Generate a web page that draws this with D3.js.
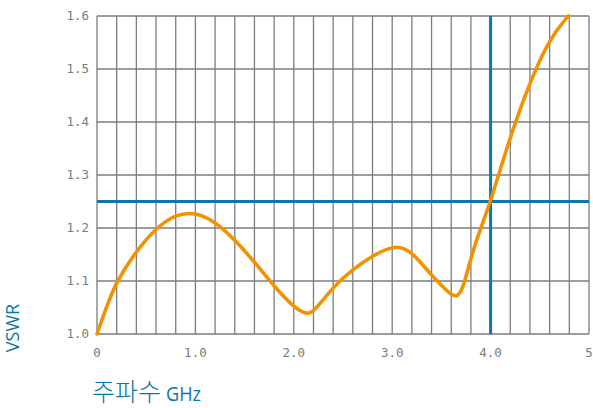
<!DOCTYPE html>
<html>
<head>
<meta charset="utf-8">
<script src="https://cdn.jsdelivr.net/npm/d3@7/dist/d3.min.js"></script>
<style>
  html, body { margin: 0; padding: 0; background: #fff; }
  svg { display: block; }
</style>
</head>
<body>
<svg id="chart" width="593" height="408"></svg>
<script>
// Frequency (GHz) and measured VSWR
const freqGHz = [0, 0.1, 0.2, 0.4, 0.6, 0.8, 1.0, 1.2, 1.4, 1.6, 1.8, 2.0, 2.13, 2.2, 2.4, 2.6, 2.8, 3.03, 3.2, 3.4, 3.6, 3.66, 3.72, 3.8, 3.9, 4.0, 4.2, 4.4, 4.6, 4.79];
const vswr    = [1.0, 1.053, 1.1, 1.157, 1.2, 1.226, 1.23, 1.212, 1.178, 1.136, 1.09, 1.05, 1.037, 1.041, 1.089, 1.122, 1.148, 1.169, 1.156, 1.11, 1.073, 1.07, 1.085, 1.145, 1.2, 1.25, 1.373, 1.476, 1.558, 1.6];

// Reference limits
const vswrLimit = [1.25];
const freqMarker = [4.0];

// Axis ticks
const xTicks = [0, 1, 2, 3, 4, 5];
const xTickLabels = ["0", "1.0", "2.0", "3.0", "4.0", "5"];
const xGrid = d3.range(0, 26).map(i => i * 0.2);
const yTicks = [1.0, 1.1, 1.2, 1.3, 1.4, 1.5, 1.6];

const svg = d3.select("#chart");
const margin = { left: 97, right: 4, top: 16, bottom: 74 };
const W = 593, H = 408;

const x = d3.scaleLinear().domain([0, 5]).range([margin.left, W - margin.right]);
const y = d3.scaleLinear().domain([1.0, 1.6]).range([H - margin.bottom, margin.top]);

const gridColor = "#7d7d7d";
const tickColor = "#7a7a7a";
const blue = "#0e76a8";
const orange = "#f39200";
const mono = "'DejaVu Sans Mono', 'Liberation Mono', monospace";

// Vertical grid lines every 0.2 GHz
svg.append("g")
  .selectAll("line").data(xGrid).join("line")
  .attr("x1", d => x(d)).attr("x2", d => x(d))
  .attr("y1", y(1.6)).attr("y2", y(1.0))
  .attr("stroke", gridColor).attr("stroke-width", 1.3);

// Horizontal grid lines every 0.1
svg.append("g")
  .selectAll("line").data(yTicks).join("line")
  .attr("x1", x(0)).attr("x2", x(5))
  .attr("y1", d => y(d)).attr("y2", d => y(d))
  .attr("stroke", gridColor).attr("stroke-width", 1.3);

// Y axis tick labels
svg.append("g")
  .selectAll("text").data(yTicks).join("text")
  .attr("x", x(0) - 8).attr("y", d => y(d))
  .attr("dy", "0.35em").attr("text-anchor", "end")
  .attr("font-family", mono).attr("font-size", 12.5)
  .attr("fill", tickColor)
  .text(d => d.toFixed(1));

// X axis tick labels
svg.append("g")
  .selectAll("text").data(xTicks).join("text")
  .attr("x", d => x(d)).attr("y", y(1.0) + 19)
  .attr("dy", "0.35em").attr("text-anchor", "middle")
  .attr("font-family", mono).attr("font-size", 12.5)
  .attr("fill", tickColor)
  .text((d, i) => xTickLabels[i]);

// VSWR limit line and frequency marker
svg.append("g")
  .selectAll("line").data(vswrLimit).join("line")
  .attr("x1", x(0)).attr("x2", x(5))
  .attr("y1", d => y(d)).attr("y2", d => y(d))
  .attr("stroke", blue).attr("stroke-width", 3);

svg.append("g")
  .selectAll("line").data(freqMarker).join("line")
  .attr("x1", d => x(d)).attr("x2", d => x(d))
  .attr("y1", y(1.6)).attr("y2", y(1.0))
  .attr("stroke", blue).attr("stroke-width", 3);

// VSWR curve (smoothed B-spline through the sampled points)
const pts = freqGHz.map((f, i) => [f, vswr[i]]);
const line = d3.line()
  .x(d => x(d[0])).y(d => y(d[1]))
  .curve(d3.curveBasis);

svg.append("path")
  .datum(pts)
  .attr("d", line)
  .attr("fill", "none")
  .attr("stroke", orange)
  .attr("stroke-width", 3.6)
  .attr("stroke-linecap", "round")
  .attr("stroke-linejoin", "round");

// Axis titles
svg.append("text")
  .attr("transform", `translate(19, 328) rotate(-90)`)
  .attr("text-anchor", "middle")
  .attr("font-family", "'Open Sans', 'Noto Sans', sans-serif")
  .attr("font-size", 18)
  .attr("fill", blue)
  .text("VSWR");

const xt = svg.append("text")
  .attr("x", 92).attr("y", 401)
  .attr("fill", blue);
xt.append("tspan")
  .attr("font-family", "'Noto Sans CJK KR', sans-serif")
  .attr("font-weight", 300)
  .attr("font-size", 25)
  .text("주파수");
xt.append("tspan")
  .attr("dx", 5)
  .attr("font-family", "'Open Sans', 'Noto Sans', sans-serif")
  .attr("font-size", 20)
  .attr("textLength", 35)
  .attr("lengthAdjust", "spacingAndGlyphs")
  .text("GHz");
</script>
</body>
</html>
